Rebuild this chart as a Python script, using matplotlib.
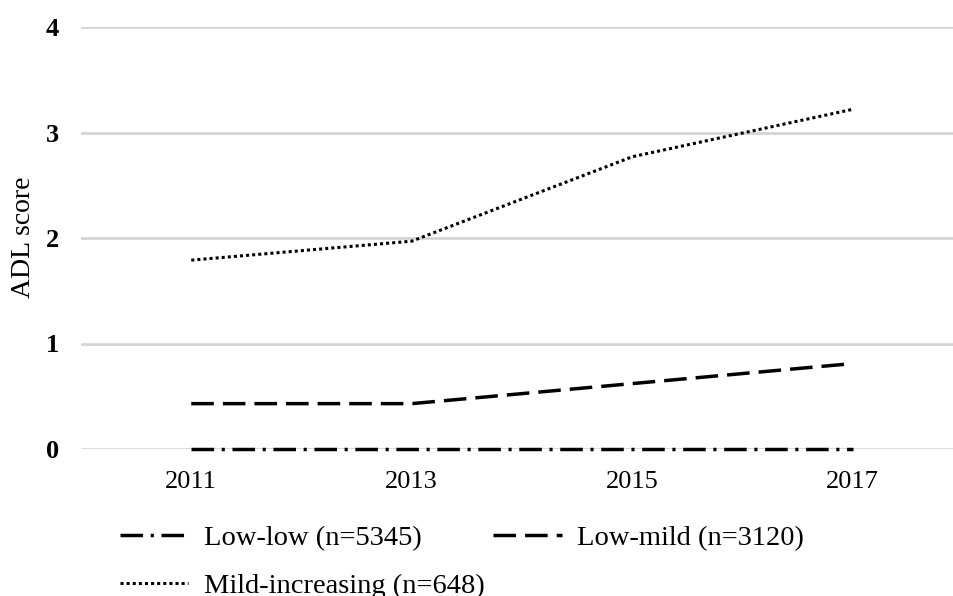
import matplotlib
matplotlib.use('Agg')
import matplotlib.pyplot as plt

years = ['2011', '2013', '2015', '2017']
low_low = [0.0, 0.0, 0.0, 0.0]
low_mild = [0.43, 0.43, 0.62, 0.81]
mild_inc = [1.79, 1.97, 2.77, 3.22]
labels = ['Low-low (n=5345)', 'Low-mild (n=3120)', 'Mild-increasing (n=648)']
y_ticks = [0, 1, 2, 3, 4]

plt.rcParams['font.family'] = ['Liberation Serif', 'DejaVu Serif']

fig = plt.figure(figsize=(9.54, 5.96), dpi=100)
# axes run a little past the right edge, like the original
ax = fig.add_axes([81 / 954, 1 - 449 / 596, 882 / 954, 422 / 596])

x = list(range(len(years)))
l1, = ax.plot(x, low_low, color='black', lw=2.5, linestyle=(0, (6.5, 2.2, 0.9, 2.2)),
              label=labels[0], clip_on=False, zorder=3)
l2, = ax.plot(x, low_mild, color='black', lw=2.5, linestyle=(0, (6.5, 2.6)), label=labels[1])
l3, = ax.plot(x, mild_inc, color='black', lw=2.2, linestyle=(0, (1, 1)), label=labels[2])

ax.set_xlim(-0.5, 3.5)
ax.set_ylim(0, 4)
ax.set_xticks(x)
ax.set_xticklabels(years, fontsize=19)
ax.set_yticks(y_ticks)
ax.set_yticklabels([str(v) for v in y_ticks], fontsize=19, fontweight='bold')
ax.tick_params(axis='both', length=0)
ax.tick_params(axis='y', pad=16)
ax.tick_params(axis='x', pad=16)
ax.grid(axis='y', color='#d2d2d2', lw=1.9)
ax.set_axisbelow(True)
for s in ax.spines.values():
    s.set_visible(False)

fig.text(24 / 954, 1 - 237 / 596, 'ADL score', rotation=90, ha='center', va='center', fontsize=20)

fig.legend([l1, l3, l2], [labels[0], labels[2], labels[1]], ncol=2, frameon=False,
           loc='center left', bbox_to_anchor=(120 / 954, 1 - 562 / 596),
           fontsize=20.5, handlelength=2.4, handletextpad=0.55, columnspacing=0.3,
           labelspacing=0.75, borderpad=0, borderaxespad=0)

fig.savefig('out.png', dpi=100)
